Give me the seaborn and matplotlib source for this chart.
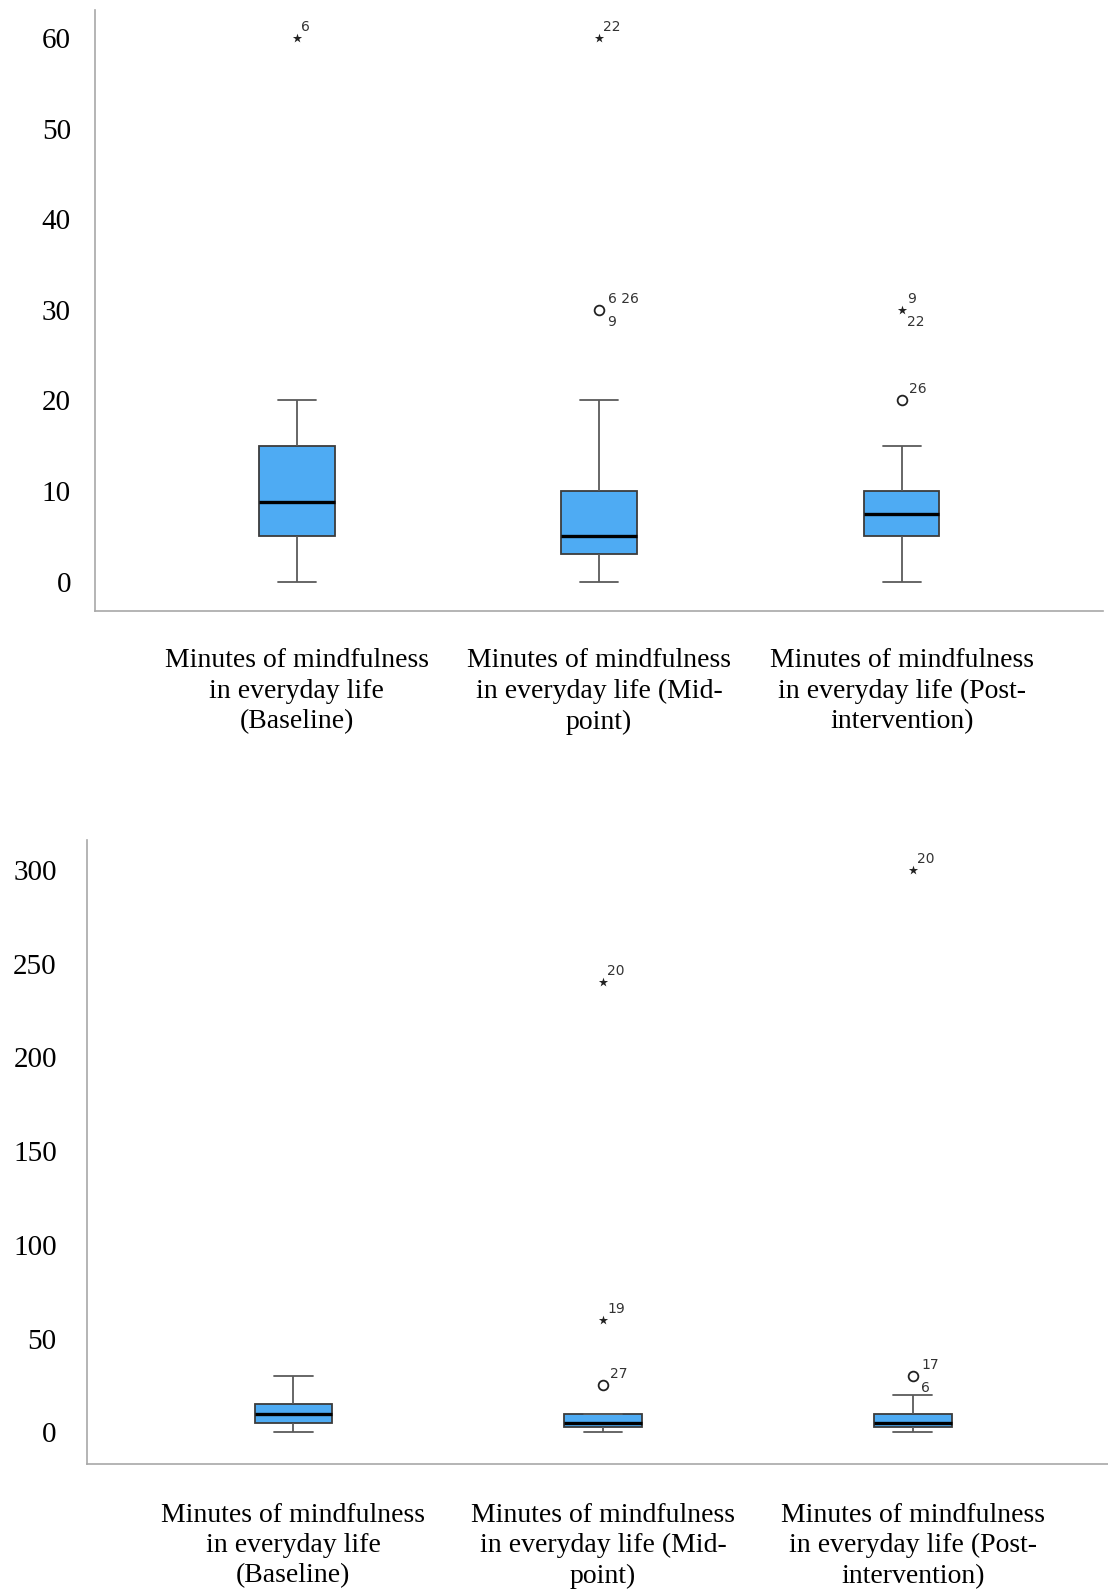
import matplotlib
matplotlib.use("Agg")
import matplotlib.pyplot as plt
import pandas as pd
import seaborn as sns

# Time points shown on the x axis
categories = [
    "Minutes of mindfulness\nin everyday life\n(Baseline)",
    "Minutes of mindfulness\nin everyday life (Mid-\npoint)",
    "Minutes of mindfulness\nin everyday life (Post-\nintervention)",
]

# Upper panel: five-number summaries per time point
a_min = [0, 0, 0]
a_q1 = [5, 3, 5]
a_median = [8.75, 5, 7.5]
a_q3 = [15, 10, 10]
a_max = [20, 20, 15]
# Upper panel: outliers (circle) and extreme values (star) with case numbers
a_out_group = [0, 1, 1, 2, 2]
a_out_value = [60, 60, 30, 30, 20]
a_out_extreme = [True, True, False, True, False]
a_out_ids = [["6"], ["22"], ["6", "26", "9"], ["9", "22"], ["26"]]
a_yticks = [0, 10, 20, 30, 40, 50, 60]

# Lower panel
b_min = [0, 0, 0]
b_q1 = [5, 3, 3]
b_median = [10, 5, 5]
b_q3 = [15, 10, 10]
b_max = [30, 10, 20]
b_out_group = [1, 1, 1, 2, 2]
b_out_value = [240, 60, 25, 300, 30]
b_out_extreme = [True, True, False, True, False]
b_out_ids = [["20"], ["19"], ["27"], ["20"], ["17", "6"]]
b_yticks = [0, 50, 100, 150, 200, 250, 300]

BOX_FILL = "#4eabf3"
EDGE = "#3c3c3c"
WHISKER = "#5a5a5a"
SPINE = "#a8a8a8"
SERIF = ["Liberation Serif", "DejaVu Serif"]

sns.set_style("white")
plt.rcParams["font.family"] = ["DejaVu Sans"]


def summary_frame(mins, q1s, meds, q3s, maxs):
    # Five values per group: linear percentiles reproduce the quartiles exactly
    rows = []
    for cat, vals in zip(categories, zip(mins, q1s, meds, q3s, maxs)):
        for v in vals:
            rows.append({"group": cat, "minutes": v})
    return pd.DataFrame(rows)


def draw_panel(ax, stats, out_group, out_value, out_extreme, out_ids,
               yticks, ylim, xlim, ypad, xpad):
    df = summary_frame(*stats)
    sns.boxplot(data=df, x="group", y="minutes", order=categories,
                whis=(0, 100), width=0.25, color=BOX_FILL, saturation=1,
                linecolor=EDGE, linewidth=1.3, showfliers=False,
                medianprops=dict(color="black", linewidth=2.4),
                whiskerprops=dict(color=WHISKER, linewidth=1.3),
                capprops=dict(color=WHISKER, linewidth=1.3),
                ax=ax)

    out = pd.DataFrame({
        "group": [categories[g] for g in out_group],
        "minutes": out_value,
        "extreme": out_extreme,
    })
    sns.stripplot(data=out[out["extreme"]], x="group", y="minutes",
                  order=categories, jitter=False, marker="*", size=7,
                  color="#222222", linewidth=0, ax=ax)
    sns.stripplot(data=out[~out["extreme"]], x="group", y="minutes",
                  order=categories, jitter=False, marker="o", size=7,
                  color="white", edgecolor="#222222", linewidth=1.3, ax=ax)

    id_style = dict(textcoords="offset pixels", fontsize=10,
                    color="#333333", ha="left")
    for g, v, ext, ids in zip(out_group, out_value, out_extreme, out_ids):
        dx = 4 if ext else 7
        if len(ids) == 1:
            ax.annotate(ids[0], (g, v), xytext=(dx, 4), va="bottom", **id_style)
        else:
            ax.annotate(" ".join(ids[:-1]), (g, v), xytext=(dx + 2, 4),
                        va="bottom", **id_style)
            ax.annotate(ids[-1], (g, v), xytext=(dx + 1, -5), va="top",
                        **id_style)

    ax.set_xlim(*xlim)
    ax.set_ylim(*ylim)
    ax.set_xlabel("")
    ax.set_ylabel("")
    ax.set_yticks(yticks)
    ax.set_yticklabels([str(t) for t in yticks], fontfamily=SERIF,
                       fontsize=21, color="black")
    ax.set_xticks(range(len(categories)))
    ax.set_xticklabels(categories, fontfamily=SERIF, fontsize=20,
                       color="black", linespacing=1.28)
    ax.tick_params(axis="y", length=0, pad=ypad)
    ax.tick_params(axis="x", length=0, pad=xpad)
    for side in ("top", "right"):
        ax.spines[side].set_visible(False)
    for side in ("left", "bottom"):
        ax.spines[side].set_color(SPINE)
        ax.spines[side].set_linewidth(1.2)
    ax.grid(False)


fig = plt.figure(figsize=(11.08, 15.94), dpi=100)
fig.patch.set_facecolor("white")

ax_top = fig.add_axes([0.0853, 0.6167, 0.9102, 0.3769])
draw_panel(ax_top, (a_min, a_q1, a_median, a_q3, a_max),
           a_out_group, a_out_value, a_out_extreme, a_out_ids,
           a_yticks, (-3.25, 63.1), (-0.669, 2.666), ypad=17, xpad=27)

ax_bot = fig.add_axes([0.0788, 0.0816, 0.9212, 0.3914])
draw_panel(ax_bot, (b_min, b_q1, b_median, b_q3, b_max),
           b_out_group, b_out_value, b_out_extreme, b_out_ids,
           b_yticks, (-16.9, 316), (-0.665, 2.63), ypad=22, xpad=28)

fig.savefig("out.png", dpi=100, facecolor="white")
